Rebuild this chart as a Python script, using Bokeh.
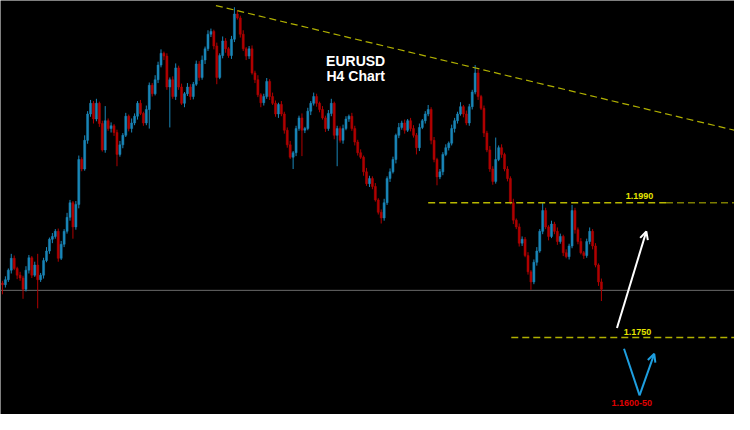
from bokeh.plotting import figure
from bokeh.models import Range1d, Arrow, OpenHead, ColumnDataSource
from bokeh.embed import file_html
from bokeh.resources import INLINE
from bokeh.core.properties import value

# ---- data (EURUSD H4 candles) ----
first_open = 1.1847
closes = [
    1.1844, 1.1853, 1.1870, 1.1891, 1.1873, 1.1861, 1.1856, 1.1836, 1.1870, 1.1892,
    1.1861, 1.1879, 1.1853, 1.1861, 1.1887, 1.1904, 1.1925, 1.1930, 1.1939, 1.1891,
    1.1916, 1.1939, 1.1964, 1.1990, 1.1947, 1.1987, 1.2067, 1.2050, 1.2101, 1.2148,
    1.2167, 1.2139, 1.2167, 1.2131, 1.2084, 1.2136, 1.2122, 1.2127, 1.2115, 1.2076,
    1.2093, 1.2110, 1.2144, 1.2122, 1.2132, 1.2144, 1.2167, 1.2149, 1.2132, 1.2156,
    1.2199, 1.2184, 1.2209, 1.2235, 1.2256, 1.2251, 1.2196, 1.2209, 1.2179, 1.2230,
    1.2196, 1.2167, 1.2184, 1.2196, 1.2179, 1.2201, 1.2237, 1.2213, 1.2244, 1.2264,
    1.2290, 1.2295, 1.2269, 1.2213, 1.2252, 1.2278, 1.2264, 1.2252, 1.2281, 1.2326,
    1.2319, 1.2290, 1.2264, 1.2251, 1.2264, 1.2221, 1.2209, 1.2182, 1.2168, 1.2179,
    1.2206, 1.2179, 1.2167, 1.2148, 1.2165, 1.2148, 1.2119, 1.2093, 1.2071, 1.2079,
    1.2122, 1.2141, 1.2119, 1.2122, 1.2153, 1.2167, 1.2179, 1.2167, 1.2156, 1.2141,
    1.2122, 1.2149, 1.2167, 1.2110, 1.2122, 1.2101, 1.2122, 1.2139, 1.2144, 1.2122,
    1.2098, 1.2079, 1.2071, 1.2045, 1.2024, 1.2033, 1.2019, 1.1995, 1.1973, 1.1963,
    1.1990, 1.2033, 1.2045, 1.2067, 1.2110, 1.2124, 1.2132, 1.2119, 1.2136, 1.2122,
    1.2110, 1.2088, 1.2124, 1.2136, 1.2148, 1.2156, 1.2101, 1.2067, 1.2036, 1.2045,
    1.2076, 1.2088, 1.2096, 1.2122, 1.2136, 1.2148, 1.2161, 1.2148, 1.2132, 1.2161,
    1.2187, 1.2221, 1.2179, 1.2158, 1.2114, 1.2084, 1.2050, 1.2028, 1.2067, 1.2088,
    1.2076, 1.2050, 1.2033, 1.1990, 1.1959, 1.1947, 1.1918, 1.1925, 1.1896, 1.1867,
    1.1849, 1.1884, 1.1904, 1.1939, 1.1976, 1.1947, 1.1930, 1.1952, 1.1939, 1.1921,
    1.1930, 1.1901, 1.1894, 1.1913, 1.1976, 1.1942, 1.1921, 1.1901, 1.1896, 1.1921,
    1.1939, 1.1913, 1.1879, 1.1849, 1.1836,
]
# wick lengths in pips
upper_wick = [
    4, 6, 3, 8, 5, 3, 6, 4, 7, 5,
    3, 6, 20, 4, 5, 7, 3, 6, 4, 5,
    6, 4, 8, 5, 3, 6, 7, 4, 9, 5,
    6, 4, 8, 3, 5, 26, 4, 6, 3, 5,
    7, 4, 6, 3, 8, 5, 4, 6, 3, 7,
    5, 4, 8, 6, 7, 3, 5, 4, 6, 8,
    4, 6, 3, 7, 5, 4, 6, 5, 8, 4,
    7, 5, 3, 6, 4, 8, 5, 3, 6, 12,
    6, 4, 7, 3, 5, 6, 4, 8, 3, 5,
    6, 4, 7, 5, 3, 6, 4, 5, 7, 3,
    5, 4, 8, 3, 6, 4, 7, 5, 3, 6,
    4, 6, 8, 3, 5, 4, 7, 5, 3, 6,
    5, 4, 6, 3, 7, 5, 4, 6, 3, 5,
    7, 4, 6, 5, 3, 8, 4, 6, 3, 5,
    6, 4, 7, 3, 5, 8, 4, 6, 3, 5,
    4, 6, 3, 7, 5, 4, 8, 3, 6, 5,
    4, 14, 6, 3, 5, 4, 7, 5, 39, 4,
    6, 3, 5, 4, 7, 3, 6, 5, 4, 6,
    3, 5, 7, 4, 14, 5, 3, 6, 4, 7,
    5, 3, 6, 4, 10, 5, 4, 6, 3, 5,
    7, 4, 5, 3, 6,
]
lower_wick = [
    17, 5, 4, 6, 3, 7, 5, 17, 4, 6,
    5, 3, 51, 4, 6, 3, 5, 7, 4, 6,
    3, 5, 4, 6, 21, 5, 7, 4, 3, 6,
    5, 8, 4, 6, 3, 5, 4, 7, 6, 21,
    4, 6, 3, 5, 7, 4, 6, 3, 5, 4,
    34, 5, 3, 6, 4, 7, 5, 72, 4, 6,
    5, 3, 7, 4, 6, 5, 3, 6, 4, 7,
    4, 5, 6, 12, 3, 5, 7, 4, 6, 5,
    3, 6, 4, 7, 5, 3, 6, 4, 8, 5,
    4, 6, 3, 5, 7, 4, 6, 5, 3, 21,
    6, 4, 46, 5, 3, 7, 4, 6, 5, 3,
    6, 4, 5, 7, 55, 4, 6, 3, 5, 4,
    6, 5, 3, 7, 4, 6, 5, 3, 4, 10,
    5, 4, 6, 3, 7, 5, 4, 6, 3, 5,
    4, 12, 6, 3, 5, 4, 7, 5, 15, 4,
    6, 3, 5, 4, 7, 5, 3, 6, 4, 5,
    5, 4, 6, 3, 7, 4, 5, 6, 4, 3,
    6, 4, 5, 3, 7, 4, 6, 5, 3, 5,
    14, 4, 6, 3, 5, 4, 7, 3, 5, 6,
    4, 6, 3, 5, 4, 7, 5, 3, 6, 4,
    5, 6, 4, 7, 21,
]

# annotation values
title_lines = ["EURUSD", "H4 Chart"]
resistance_level = 1.1990
support_level = 1.1750
target_label = "1.1600-50"
current_price = 1.1834
trend_idx = [72.7, 249.3]
trend_price = [1.2341, 1.2119]
res_start_idx = 145.0
sup_start_idx = 173.3
white_arrow_idx = [209.3, 219.3]
white_arrow_price = [1.1767, 1.1939]
blue_v_idx = [211.7, 217.0, 222.0]
blue_v_price = [1.1730, 1.1647, 1.1721]

# ---- build candle table ----
opens = [first_open] + closes[:-1]
idx = list(range(len(closes)))
highs = [max(o, c) + u / 10000 for o, c, u in zip(opens, closes, upper_wick)]
lows = [min(o, c) - l / 10000 for o, c, l in zip(opens, closes, lower_wick)]
BULL = "#1a86b8"
BEAR = "#b00000"
colors = [BULL if c >= o else BEAR for o, c in zip(opens, closes)]
src = ColumnDataSource(dict(x=idx, o=opens, c=closes, h=highs, l=lows,
                            top=[max(o, c) for o, c in zip(opens, closes)],
                            bot=[min(o, c) for o, c in zip(opens, closes)],
                            col=colors))

p = figure(width=734, height=414, output_backend="svg", toolbar_location=None,
           x_range=Range1d(-0.67, 249.33), y_range=Range1d(1.1613, 1.2350),
           x_axis_location=None, y_axis_location=None, min_border=0,
           background_fill_color="black", border_fill_color="black",
           outline_line_color=None)
p.xgrid.visible = False
p.ygrid.visible = False

# current price line
p.line([-5, 260], [current_price, current_price], line_color="#6a6a6a", line_width=1)

p.segment(x0="x", y0="l", x1="x", y1="h", source=src, line_color="col", line_width=1)
p.vbar(x="x", top="top", bottom="bot", width=0.7, source=src,
       fill_color="col", line_color="col", line_width=0.5)

# trend line
p.line(trend_idx, trend_price, line_color="#b0b000", line_width=1.2, line_dash="7 4")
# levels
p.line([res_start_idx, 226], [resistance_level] * 2, line_color="#b8b800", line_width=1.3, line_dash="7 4")
p.line([226, 260], [resistance_level] * 2, line_color="#7c7c00", line_width=1.6, line_dash="7 4")
p.line([sup_start_idx, 260], [support_level] * 2, line_color="#b0b000", line_width=1.5, line_dash="7 4")

font = value("Liberation Sans")
p.text(x=[120.3, 120.3], y=[1.2242, 1.2216], text=title_lines, text_color="white",
       text_font=font, text_font_style="bold", text_font_size="14px",
       text_align="center", text_baseline="middle")
p.text(x=[217.0, 216.3], y=[1.2002, 1.1760],
       text=[f"{resistance_level:.4f}", f"{support_level:.4f}"], text_color="#e6e600",
       text_font=font, text_font_style="bold", text_font_size="9px",
       text_align="center", text_baseline="middle")
p.text(x=[214.3], y=[1.16335], text=[target_label], text_color="#e00000",
       text_font=font, text_font_style="bold", text_font_size="9px",
       text_align="center", text_baseline="middle")

# arrows
p.add_layout(Arrow(end=OpenHead(size=8, line_color="white", line_width=2),
                   x_start=white_arrow_idx[0], y_start=white_arrow_price[0],
                   x_end=white_arrow_idx[1], y_end=white_arrow_price[1],
                   line_color="white", line_width=2))
BLUE = "#1e9fe0"
p.line(blue_v_idx[:2], blue_v_price[:2], line_color=BLUE, line_width=2)
p.add_layout(Arrow(end=OpenHead(size=8, line_color=BLUE, line_width=2),
                   x_start=blue_v_idx[1], y_start=blue_v_price[1],
                   x_end=blue_v_idx[2], y_end=blue_v_price[2],
                   line_color=BLUE, line_width=2))

open("out.html", "w").write(file_html(p, INLINE))
